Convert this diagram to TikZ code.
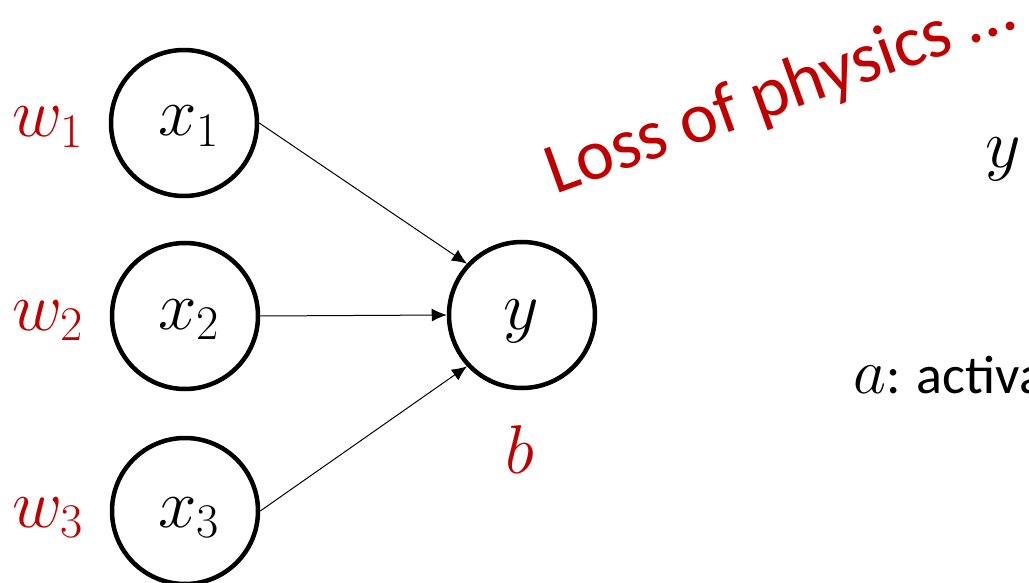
\documentclass[tikz,border=0pt]{standalone}
\usepackage{fix-cm}
\usepackage{fontspec}
\setmainfont{Carlito}
\usetikzlibrary{arrows.meta}
\definecolor{darkred}{HTML}{C00000}
\begin{document}
\begin{tikzpicture}[x=1pt,y=1pt,
  neuron/.style={circle,draw,line width=4.5pt,minimum size=146pt,inner sep=0pt},
  conn/.style={line width=1pt,-{Latex[length=15pt,width=13pt]}},
  mlabel/.style={font=\fontsize{69}{80}\selectfont,anchor=base,inner sep=0pt},
  rlabel/.style={mlabel,text=darkred}]
\useasboundingbox (0,0) rectangle (1029,-583);
\node[neuron] (x1) at (184,-123) {};
\node[neuron] (x2) at (185,-316) {};
\node[neuron] (x3) at (185,-511) {};
\node[neuron] (y) at (522,-315) {};
\node[mlabel] (tx1) at (189,-136) {$x_1$};
\node[mlabel] (tx2) at (189,-329) {$x_2$};
\node[mlabel] (tx3) at (189,-527) {$x_3$};
\node[mlabel] (ty) at (521,-329) {$y$};
\node[rlabel] (w1) at (48,-137) {$w_1$};
\node[rlabel] (w2) at (48,-330) {$w_2$};
\node[rlabel] (w3) at (48,-527) {$w_3$};
\node[rlabel] (b) at (520,-473) {$b$};
\draw[conn] (x1.east) -- (y.137);
\draw[conn] (x2.east) -- (y.west);
\draw[conn] (x3.east) -- (y.223);
\node[font=\fontsize{72}{86}\selectfont,text=darkred,rotate=19.8,anchor=base west,inner sep=0pt] (loss) at (555,-195) {Loss of physics …};
\node[mlabel] (y2) at (1003,-168) {$y$};
\node[font=\fontsize{54}{64}\selectfont,anchor=base west,inner sep=0pt] (act) at (853,-393) {\fontsize{64}{76}\selectfont$a$\fontsize{54}{64}\selectfont: activa};
\end{tikzpicture}
\end{document}
